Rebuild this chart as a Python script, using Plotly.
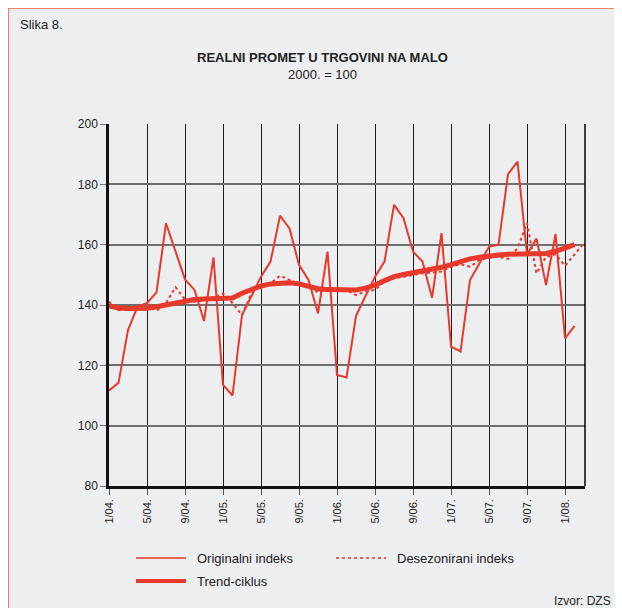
import plotly.graph_objects as go

tick_labels = ["1/04.", "5/04.", "9/04.", "1/05.", "5/05.", "9/05.", "1/06.",
               "5/06.", "9/06.", "1/07.", "5/07.", "9/07.", "1/08."]

originalni = [111.6, 114.2, 131.7, 139.5, 140.6, 144.2, 167.1, 158.0, 148.5, 145.0,
              134.7, 155.8, 113.5, 110.0, 136.7, 143.0, 149.4, 154.4, 169.6, 165.4,
              153.3, 148.3, 137.2, 157.7, 116.8, 116.0, 136.4, 143.0, 149.4, 154.4,
              173.2, 168.8, 157.7, 154.4, 142.4, 163.8, 126.2, 124.6, 148.3, 153.8,
              159.3, 160.1, 183.4, 187.5, 156.8, 162.0, 146.6, 163.6, 128.9, 133.1]

desezonirani = [141.1, 138.3, 138.9, 139.5, 140.3, 138.1, 140.6, 145.9, 141.8, 141.1,
                141.5, 142.6, 143.8, 140.6, 136.7, 143.9, 146.3, 147.2, 149.7, 148.3,
                147.0, 146.3, 144.1, 145.6, 145.6, 145.0, 143.3, 144.5, 145.0, 147.8,
                148.9, 149.4, 150.0, 150.5, 150.7, 151.1, 152.7, 153.5, 152.7, 154.9,
                155.7, 156.0, 155.3, 158.8, 167.1, 150.5, 156.0, 156.8, 153.0, 156.8,
                160.5]

trend = [139.7, 139.0, 138.8, 138.8, 138.9, 139.4, 140.0, 140.8, 141.5, 141.8,
         142.0, 142.2, 142.4, 142.3, 143.9, 145.2, 146.3, 147.0, 147.4, 147.4,
         147.0, 146.2, 145.4, 145.1, 145.0, 145.0, 145.0, 145.6, 146.6, 148.1,
         149.4, 150.1, 150.7, 151.2, 151.7, 152.5, 153.4, 154.4, 155.3, 155.8,
         156.3, 156.6, 156.8, 156.8, 156.8, 156.9, 157.1, 157.8, 158.8, 160.0]

RED = "#E8392B"
FONT = "Liberation Sans, Arial, sans-serif"

fig = go.Figure()
fig.add_trace(go.Scatter(x=list(range(len(trend))), y=trend, mode="lines",
                         line=dict(color=RED, width=5), name="Trend-ciklus"))
fig.add_trace(go.Scatter(x=list(range(len(desezonirani))), y=desezonirani, mode="lines",
                         line=dict(color=RED, width=2, dash="dot"), name="Desezonirani indeks"))
fig.add_trace(go.Scatter(x=list(range(len(originalni))), y=originalni, mode="lines",
                         line=dict(color=RED, width=2), name="Originalni indeks"))

OFF = 8  # page body margin
W, H = 622 - OFF, 608 - OFF
L, R, T, B = 109, 585, 124, 486  # plot area in window pixels
pw, ph = R - L, B - T


def px(x):
    return (x - L) / pw


def py(y):
    return (B - y) / ph


fig.update_layout(
    width=W, height=H,
    margin=dict(l=L - OFF, r=622 - R, t=T - OFF, b=608 - B, pad=0),
    paper_bgcolor="#EDEEF0",
    plot_bgcolor="rgba(0,0,0,0)",
    showlegend=False,
    font=dict(family=FONT, color="#222", size=12),
    xaxis=dict(
        range=[0, 50.1],
        tickvals=list(range(0, 49, 4)),
        ticktext=tick_labels,
        tickangle=-90,
        tickfont=dict(size=11, color="#222"),
        showgrid=True, gridcolor="#1e1e1e", gridwidth=1.3,
        zeroline=False,
        showline=True, linecolor="#111", linewidth=2.5,
        ticks="outside", ticklen=6, tickcolor="#555", tickwidth=1,
    ),
    yaxis=dict(
        range=[80, 200],
        dtick=20,
        tickfont=dict(size=12, color="#222"),
        showgrid=True, gridcolor="#6e6e6e", gridwidth=2,
        zeroline=False,
        showline=True, linecolor="#111", linewidth=2.5,
        ticks="outside", ticklen=6, tickcolor="#777", tickwidth=1,
    ),
)

# panel border (top and left edges visible)
fig.add_shape(type="rect", xref="paper", yref="paper",
              x0=px(8.5), x1=px(680), y0=py(680), y1=py(8.5),
              fillcolor="rgba(0,0,0,0)", line=dict(color="#F0806F", width=1.2), layer="below")
# right frame line
fig.add_shape(type="line", xref="paper", yref="paper", x0=1, x1=1, y0=0, y1=1,
              line=dict(color="#111", width=1.6))

ann = [
    dict(text="Slika 8.", x=px(18), y=py(25), xanchor="left", size=13),
    dict(text="<b>REALNI PROMET U TRGOVINI NA MALO</b>", x=px(322), y=py(58), xanchor="center", size=13),
    dict(text="2000. = 100", x=px(322), y=py(75), xanchor="center", size=13),
    dict(text="Originalni indeks", x=px(195), y=py(558), xanchor="left", size=13),
    dict(text="Desezonirani indeks", x=px(395), y=py(558), xanchor="left", size=13),
    dict(text="Trend-ciklus", x=px(195), y=py(581), xanchor="left", size=13),
    dict(text="Izvor: DZS", x=px(613), y=py(601), xanchor="right", size=12),
]
for a in ann:
    fig.add_annotation(text=a["text"], x=a["x"], y=a["y"], xref="paper", yref="paper",
                       xanchor=a["xanchor"], yanchor="middle", showarrow=False,
                       font=dict(size=a["size"], color="#222", family=FONT))

# legend samples
fig.add_shape(type="line", xref="paper", yref="paper", x0=px(136), x1=px(186),
              y0=py(558), y1=py(558), line=dict(color=RED, width=1.5))
fig.add_shape(type="line", xref="paper", yref="paper", x0=px(336), x1=px(386),
              y0=py(558), y1=py(558), line=dict(color=RED, width=1.5, dash="dot"))
fig.add_shape(type="line", xref="paper", yref="paper", x0=px(136), x1=px(186),
              y0=py(581), y1=py(581), line=dict(color=RED, width=4))

fig.write_html("out.html", post_script="document.documentElement.style.overflow='hidden';document.body.style.overflow='hidden';")
